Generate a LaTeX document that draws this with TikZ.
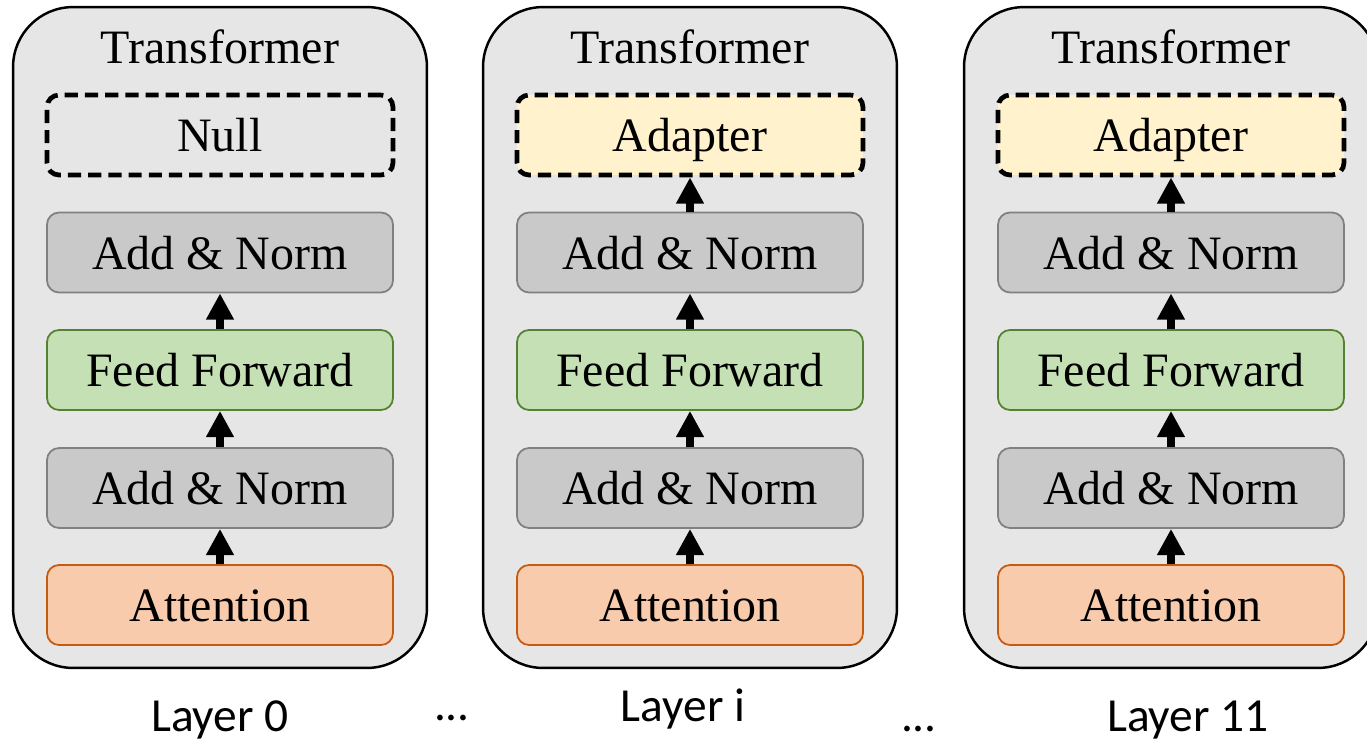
\documentclass[tikz,border=0pt]{standalone}
\usepackage{fontspec}
\setmainfont{Liberation Serif}
\newfontfamily\labelfont{Carlito}
\usetikzlibrary{arrows.meta}

\definecolor{layerfill}{HTML}{E7E6E6}
\definecolor{normfill}{HTML}{C9C9C9}
\definecolor{normline}{HTML}{808080}
\definecolor{ffnfill}{HTML}{C5E0B4}
\definecolor{ffnline}{HTML}{548235}
\definecolor{attnfill}{HTML}{F8CBAD}
\definecolor{attnline}{HTML}{C55A11}
\definecolor{adaptfill}{HTML}{FFF2CC}

\begin{document}
\begin{tikzpicture}[x=0.02cm,y=-0.02cm,
  font=\fontsize{27.3}{31}\selectfont,
  layer/.style={draw, line width=1.4pt, rounded corners=1.2cm, fill=layerfill,
    minimum width=8.28cm, minimum height=13.22cm},
  sub/.style={rounded corners=0.24cm, line width=1pt, inner sep=0pt,
    text height=22pt, text depth=3pt,
    minimum width=6.92cm, minimum height=1.6cm},
  norm/.style={sub, draw=normline, fill=normfill},
  ffn/.style={sub, draw=ffnline, fill=ffnfill},
  attn/.style={sub, draw=attnline, fill=attnfill},
  slot/.style={sub, draw, line width=2.7pt, dash pattern=on 7.5pt off 4pt},
  up/.style={-{Triangle[length=15pt,width=15pt]}, line width=4.5pt},
  lbl/.style={font=\labelfont\fontsize{27}{31}\selectfont, anchor=base}]
  \useasboundingbox (0,0) rectangle (1367,741);

  % Layer 0
  \node[layer] (T0) at (220,337.5) {};
  \node[anchor=base] (T0t) at (220,63) {Transformer};
  \node[slot, fill=layerfill] (X0) at (220,135) {Null};
  \node[norm] (N0b) at (220,252.5) {Add \& Norm};
  \node[ffn] (F0) at (220,370) {Feed Forward};
  \node[norm] (N0a) at (220,488) {Add \& Norm};
  \node[attn] (A0) at (220,605) {Attention};
  \draw[up] (A0) -- (N0a);
  \draw[up] (N0a) -- (F0);
  \draw[up] (F0) -- (N0b);
  \node[lbl] (L0) at (220,731) {Layer 0};

  % Layer i
  \node[layer] (Ti) at (690,337.5) {};
  \node[anchor=base] (Tit) at (690,63) {Transformer};
  \node[slot, fill=adaptfill] (Xi) at (690,135) {Adapter};
  \node[norm] (Nib) at (690,252.5) {Add \& Norm};
  \node[ffn] (Fi) at (690,370) {Feed Forward};
  \node[norm] (Nia) at (690,488) {Add \& Norm};
  \node[attn] (Ai) at (690,605) {Attention};
  \draw[up] (Ai) -- (Nia);
  \draw[up] (Nia) -- (Fi);
  \draw[up] (Fi) -- (Nib);
  \draw[up] (Nib) -- (Xi);
  \node[lbl] (Li) at (683,721) {Layer i};

  % Layer 11
  \node[layer] (T11) at (1171,337.5) {};
  \node[anchor=base] (T11t) at (1171,63) {Transformer};
  \node[slot, fill=adaptfill] (X11) at (1171,135) {Adapter};
  \node[norm] (N11b) at (1171,252.5) {Add \& Norm};
  \node[ffn] (F11) at (1171,370) {Feed Forward};
  \node[norm] (N11a) at (1171,488) {Add \& Norm};
  \node[attn] (A11) at (1171,605) {Attention};
  \draw[up] (A11) -- (N11a);
  \draw[up] (N11a) -- (F11);
  \draw[up] (F11) -- (N11b);
  \draw[up] (N11b) -- (X11);
  \node[lbl] (L11) at (1188,731) {Layer 11};

  % dots between layers
  \node[lbl] (D1) at (452,720) {...};
  \node[lbl] (D2) at (919,731) {...};
\end{tikzpicture}
\end{document}
